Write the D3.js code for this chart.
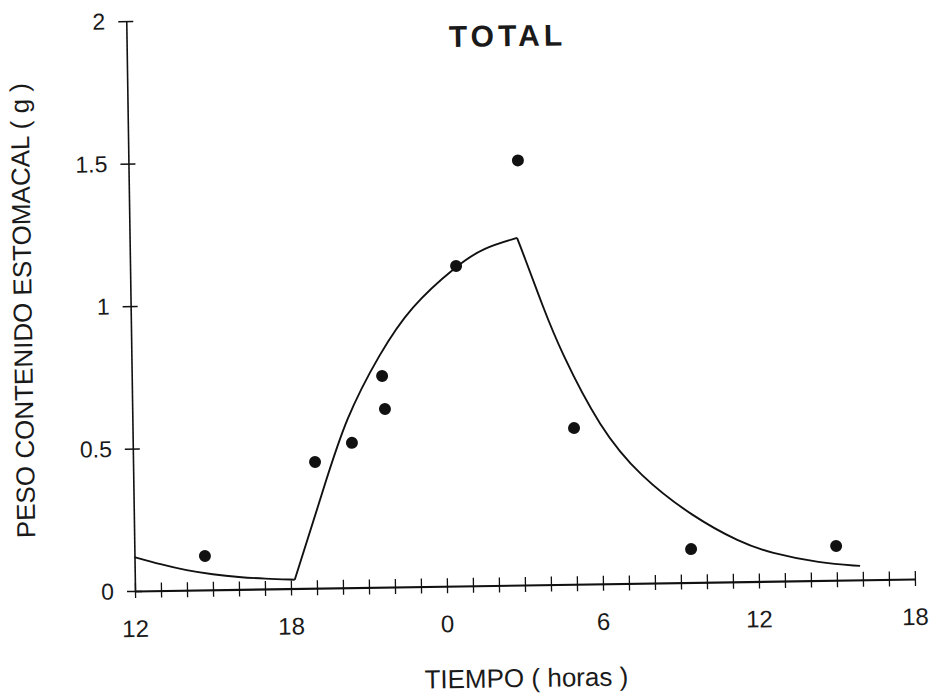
<!DOCTYPE html>
<head>
  <style>
    body { margin: 0; background: #fff; }
    text { font-family: "Liberation Sans", Arial, sans-serif; fill: #1a1a1a; }
  </style>
<title>TOTAL - Peso contenido estomacal</title>
</head>

<body>

  <script src="https://cdn.jsdelivr.net/npm/d3@7/dist/d3.min.js"></script>

  <script>
    // hours counted from 12:00 of the first day
    const obsHours  = [2.71, 7.0, 8.43, 9.63, 9.72, 12.54, 14.98, 16.98, 21.41, 26.99];
    const obsWeight = [0.119, 0.443, 0.508, 0.741, 0.625, 1.123, 1.49, 0.548, 0.117, 0.12];

    // fitted model, three pieces (decay, feeding, evacuation)
    const fitHoursA  = [0, 1, 2, 3, 4, 5, 6.15];
    const fitWeightA = [0.119, 0.092, 0.069, 0.054, 0.043, 0.036, 0.031];
    const fitHoursB  = [6.15, 7.3, 8.2, 9.56, 10.75, 12.58, 13.59, 14.9];
    const fitWeightB = [0.031, 0.345, 0.595, 0.822, 0.982, 1.126, 1.185, 1.218];
    const fitHoursC  = [14.9, 15.12, 15.86, 16.49, 17.98, 19.49, 21.5, 23.3, 24.45, 26.36, 27.9];
    const fitWeightC = [1.218, 1.165, 0.974, 0.823, 0.545, 0.375, 0.23, 0.138, 0.099, 0.061, 0.049];

    const xTickValues = [0, 6, 12, 18, 24, 30];
    const xTickLabels = ["12", "18", "0", "6", "12", "18"];
    const yTickValues = [0, 0.5, 1, 1.5, 2];
    const yTickLabels = ["0", "0.5", "1", "1.5", "2"];

    const margin = {top: 21, right: 21, bottom: 108, left: 135};
    const width = 936 - margin.left - margin.right;
    const height = 699 - margin.top - margin.bottom;

    const x = d3.scaleLinear().domain([0, 30]).range([0, width]);
    const y = d3.scaleLinear().domain([0, 2]).range([height, 0]);

    const svg = d3.select("body").append("svg")
        .attr("width", 936)
        .attr("height", 699);

    // the scanned page sits a little crooked
    const g = svg.append("g")
        .attr("transform", "translate(" + margin.left + "," + margin.top + ") rotate(-0.88," + 0 + "," + height + ")");

    // x axis with hourly crossing ticks
    const xAxis = g.append("g")
        .attr("transform", "translate(0," + height + ")")
        .call(d3.axisBottom(x).tickValues(d3.range(0, 31)).tickSizeOuter(0).tickFormat(""));
    xAxis.select(".domain").attr("stroke", "#111").attr("stroke-width", 2.2);
    xAxis.selectAll(".tick line").attr("y1", -8).attr("y2", 7).attr("stroke", "#111").attr("stroke-width", 1.3);

    g.selectAll(".xlabel")
      .data(xTickValues)
      .enter().append("text")
        .attr("class", "xlabel")
        .attr("x", function(d) { return x(d); })
        .attr("y", height + 46)
        .attr("text-anchor", "middle")
        .style("font-size", "24px")
        .text(function(d, i) { return xTickLabels[i]; });

    // y axis with crossing ticks
    const yAxis = g.append("g")
        .call(d3.axisLeft(y).tickValues(yTickValues).tickSizeOuter(0).tickFormat(""));
    yAxis.select(".domain").attr("stroke", "#111").attr("stroke-width", 1.6);
    yAxis.selectAll(".tick line").attr("x1", 7).attr("x2", -8).attr("stroke", "#111").attr("stroke-width", 1.5);

    g.selectAll(".ylabel")
      .data(yTickValues)
      .enter().append("text")
        .attr("class", "ylabel")
        .attr("x", -21)
        .attr("y", function(d) { return y(d); })
        .attr("dy", "0.36em")
        .attr("text-anchor", "end")
        .style("font-size", "23px")
        .text(function(d, i) { return yTickLabels[i]; });

    // fitted curve, smoothed through the read-off points
    const line = d3.line()
        .x(function(d) { return x(d[0]); })
        .y(function(d) { return y(d[1]); })
        .curve(d3.curveBasis);

    [[fitHoursA, fitWeightA], [fitHoursB, fitWeightB], [fitHoursC, fitWeightC]].forEach(function(p) {
      g.append("path")
        .datum(p[0].map(function(h, i) { return [h, p[1][i]]; }))
        .attr("fill", "none")
        .attr("stroke", "#111")
        .attr("stroke-width", 1.9)
        .attr("stroke-linejoin", "miter")
        .attr("d", line);
    });

    // observed points
    g.selectAll("circle")
      .data(obsHours.map(function(h, i) { return [h, obsWeight[i]]; }))
      .enter().append("circle")
        .attr("cx", function(d) { return x(d[0]); })
        .attr("cy", function(d) { return y(d[1]); })
        .attr("r", 6)
        .attr("fill", "#111");

    // titles
    g.append("text")
      .attr("x", width / 2 - 9)
      .attr("y", 31)
      .attr("text-anchor", "middle")
      .style("font-size", "30px")
      .style("font-weight", "bold")
      .style("letter-spacing", "4px")
      .text("TOTAL");

    g.append("text")
      .attr("x", width / 2)
      .attr("y", height + 102)
      .attr("text-anchor", "middle")
      .style("font-size", "26px")
      .text("TIEMPO ( horas )");

    g.append("text")
      .attr("transform", "rotate(-90)")
      .attr("x", -288)
      .attr("y", -99)
      .attr("text-anchor", "middle")
      .style("font-size", "26px")
      .text("PESO CONTENIDO ESTOMACAL ( g )");

  </script>

</body>
